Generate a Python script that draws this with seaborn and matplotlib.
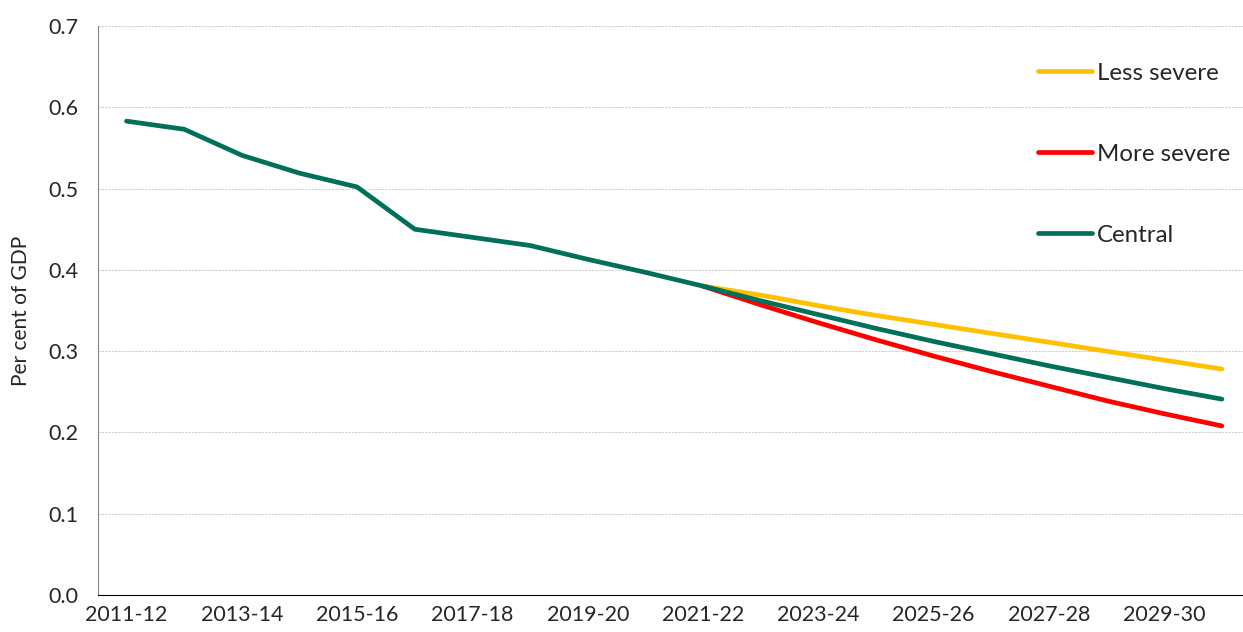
import numpy as np
import pandas as pd
import matplotlib
matplotlib.use("Agg")
import matplotlib.pyplot as plt
import seaborn as sns

years = ["2011-12", "2012-13", "2013-14", "2014-15", "2015-16", "2016-17",
         "2017-18", "2018-19", "2019-20", "2020-21", "2021-22", "2022-23",
         "2023-24", "2024-25", "2025-26", "2026-27", "2027-28", "2028-29",
         "2029-30", "2030-31"]

# scenarios branch off from 2021-22
less_severe = [None] * 10 + [0.380, 0.369, 0.356, 0.344, 0.333, 0.322,
                             0.311, 0.300, 0.289, 0.278]
more_severe = [None] * 10 + [0.380, 0.357, 0.335, 0.314, 0.294, 0.275,
                             0.257, 0.239, 0.223, 0.208]
central = [0.583, 0.573, 0.541, 0.519, 0.502, 0.450, 0.440, 0.430, 0.413,
           0.397, 0.380, 0.362, 0.345, 0.328, 0.312, 0.297, 0.282, 0.268,
           0.254, 0.241]

series_names = ["Less severe", "More severe", "Central"]
colours = ["#FFC000", "#FF0000", "#00705A"]

rows = []
for name, vals in zip(series_names, [less_severe, more_severe, central]):
    for i, v in enumerate(vals):
        if v is not None:
            rows.append({"idx": i, "value": v, "series": name})
df = pd.DataFrame(rows)

sns.set_style("white")
plt.rcParams["font.family"] = ["Lato", "DejaVu Sans"]

fig = plt.figure(figsize=(12.43, 6.32), dpi=100)
ax = fig.add_axes([0.0786, 0.0585, 0.9276, 0.9003])

sns.lineplot(data=df, x="idx", y="value", hue="series", hue_order=series_names,
             palette=dict(zip(series_names, colours)), linewidth=3.4,
             solid_capstyle="round", ax=ax)

ax.set_xlim(-0.5, len(years) - 0.5)
ax.set_ylim(0, 0.7)
ax.set_yticks(np.arange(0, 0.71, 0.1))
ax.set_yticklabels([f"{v:.1f}" for v in np.arange(0, 0.71, 0.1)], fontsize=15.5)

# tick marks on category boundaries, labels every second year
ax.set_xticks(np.arange(-0.5, len(years), 1.0))
ax.set_xticklabels([])
ax.set_xticks(np.arange(0, len(years), 2), minor=True)
ax.set_xticklabels(years[::2], minor=True, fontsize=15.5)
ax.tick_params(axis="x", which="major", length=5, color="#888888", direction="out")
ax.tick_params(axis="x", which="minor", length=0, pad=7)
ax.tick_params(axis="y", length=6, color="#888888", direction="out", pad=8)

ax.grid(axis="y", color="#d0d0d0", linestyle=(0, (2, 1)), linewidth=0.8)
ax.set_axisbelow(True)

for side in ["top", "right"]:
    ax.spines[side].set_visible(False)
ax.spines["left"].set_color("#888888")
ax.spines["bottom"].set_color("black")

ax.set_xlabel("")
ax.set_ylabel("Per cent of GDP", fontsize=15, labelpad=12)

leg = ax.legend(loc="upper left", bbox_to_anchor=(0.818, 0.935),
                bbox_transform=fig.transFigure, frameon=False, fontsize=17.3,
                handlelength=2.25, handletextpad=0.2, labelspacing=2.5)
for line in leg.get_lines():
    line.set_linewidth(3.4)

fig.savefig("out.png", dpi=100)
